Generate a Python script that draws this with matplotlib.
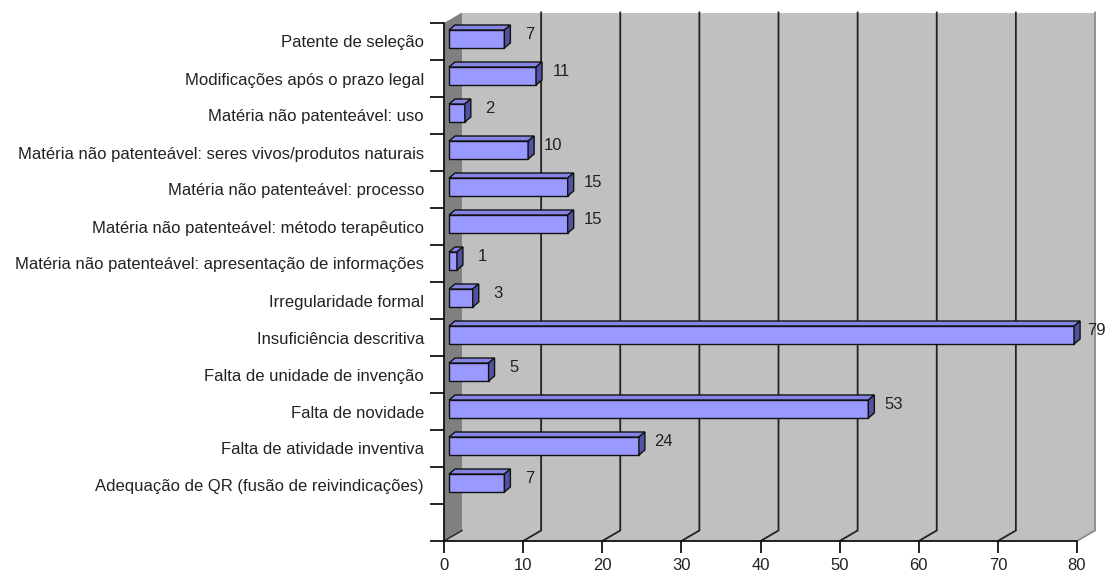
import matplotlib
matplotlib.use('Agg')
import matplotlib.pyplot as plt
from matplotlib.patches import Polygon, Rectangle

# ---- data (top to bottom as shown) ----
categories = [
    "Patente de seleção",
    "Modificações após o prazo legal",
    "Matéria não patenteável: uso",
    "Matéria não patenteável: seres vivos/produtos naturais",
    "Matéria não patenteável: processo",
    "Matéria não patenteável: método terapêutico",
    "Matéria não patenteável: apresentação de informações",
    "Irregularidade formal",
    "Insuficiência descritiva",
    "Falta de unidade de invenção",
    "Falta de novidade",
    "Falta de atividade inventiva",
    "Adequação de QR (fusão de reivindicações)",
]
values = [7, 11, 2, 10, 15, 15, 1, 3, 79, 5, 53, 24, 7]
xticks = [0, 10, 20, 30, 40, 50, 60, 70, 80]

plt.rcParams['font.family'] = ['Liberation Sans', 'DejaVu Sans']

W, H = 1106, 573
fig = plt.figure(figsize=(W / 100, H / 100), dpi=100)
fig.patch.set_facecolor('white')

# front plane in pixels
X0, X1 = 444, 1077
YB, YT = 541, 23
ax = fig.add_axes([X0 / W, (H - YB) / H, (X1 - X0) / W, (YB - YT) / H])
XMAX = 80
NS = len(categories) + 1
ax.set_xlim(0, XMAX)
ax.set_ylim(0, NS)
ax.patch.set_visible(False)

sx = (X1 - X0) / XMAX        # px per unit
sy = (YB - YT) / NS          # px per slot

def px(dx, dy):
    return dx / sx, dy / sy

DX, DY = px(18, 10.5)

wall = '#C0C0C0'
side = '#808080'
# back wall
ax.add_patch(Rectangle((DX, DY), XMAX, NS, fc=wall, ec='none', zorder=0.5, clip_on=False))
# floor
ax.add_patch(Polygon([(0, 0), (XMAX, 0), (XMAX + DX, DY), (DX, DY)], closed=True,
                     fc=wall, ec='none', zorder=0.6, clip_on=False))
# side wall
ax.add_patch(Polygon([(0, 0), (0, NS), (DX, NS + DY), (DX, DY)], closed=True,
                     fc=side, ec='none', zorder=0.7, clip_on=False))

# gridlines
for v in xticks[1:]:
    col = '#222222' if v < 80 else '#8a8a8a'
    ax.plot([v, v + DX, v + DX], [0, DY, NS + DY], color=col, lw=1.3,
            zorder=1, clip_on=False, solid_joinstyle='miter')
ax.plot([0, DX], [0, DY], color='#222222', lw=1.0, zorder=1, clip_on=False)

# bars
fx, fy = px(5, 2.5)
bx, by = px(6, 5)
hh = 9 / sy
front_c = '#9999FF'
top_c = '#8585E6'
side_c = '#5252A3'
for i, (cat, v) in enumerate(zip(categories, values)):
    yc = NS - 1 - i + 0.5
    y0 = yc + fy - hh
    y1 = yc + fy + hh
    xa = fx
    xb = fx + v
    ax.add_patch(Rectangle((xa, y0), v, y1 - y0, fc=front_c, ec='#111111', lw=1.0,
                           zorder=3, clip_on=False))
    ax.add_patch(Polygon([(xa, y1), (xb, y1), (xb + bx, y1 + by), (xa + bx, y1 + by)],
                         closed=True, fc=top_c, ec='#111111', lw=1.0, zorder=3, clip_on=False))
    ax.add_patch(Polygon([(xb, y0), (xb, y1), (xb + bx, y1 + by), (xb + bx, y0 + by)],
                         closed=True, fc=side_c, ec='#111111', lw=1.0, zorder=3, clip_on=False))
    lx = min(xb + 25 / sx, (1096 - X0) / sx)
    ax.text(lx, yc + 7 / sy, str(v), ha='center', va='center', fontsize=12,
            color='#222222', zorder=4, clip_on=False)

# axes styling
for s in ['top', 'right']:
    ax.spines[s].set_visible(False)
for s in ['left', 'bottom']:
    ax.spines[s].set_color('#111111')
    ax.spines[s].set_linewidth(1.3)
    ax.spines[s].set_zorder(2.5)

ax.set_xticks(xticks)
ax.set_xticklabels([str(t) for t in xticks])
ax.tick_params(axis='x', direction='out', length=12 * 0.72, width=1.3, color='#111111',
               pad=5 * 0.72, labelsize=12, labelcolor='#222222')
ax.set_yticks(range(NS + 1))
ax.set_yticklabels([])
ax.tick_params(axis='y', which='major', direction='out', length=14 * 0.72, width=1.3,
               color='#111111')
ax.set_yticks([NS - 1 - i + 0.5 for i in range(len(categories))], minor=True)
ax.set_yticklabels(categories, minor=True)
ax.tick_params(axis='y', which='minor', length=0, pad=20 * 0.72, labelsize=12,
               labelcolor='#222222')

fig.savefig('out.png', dpi=100)
